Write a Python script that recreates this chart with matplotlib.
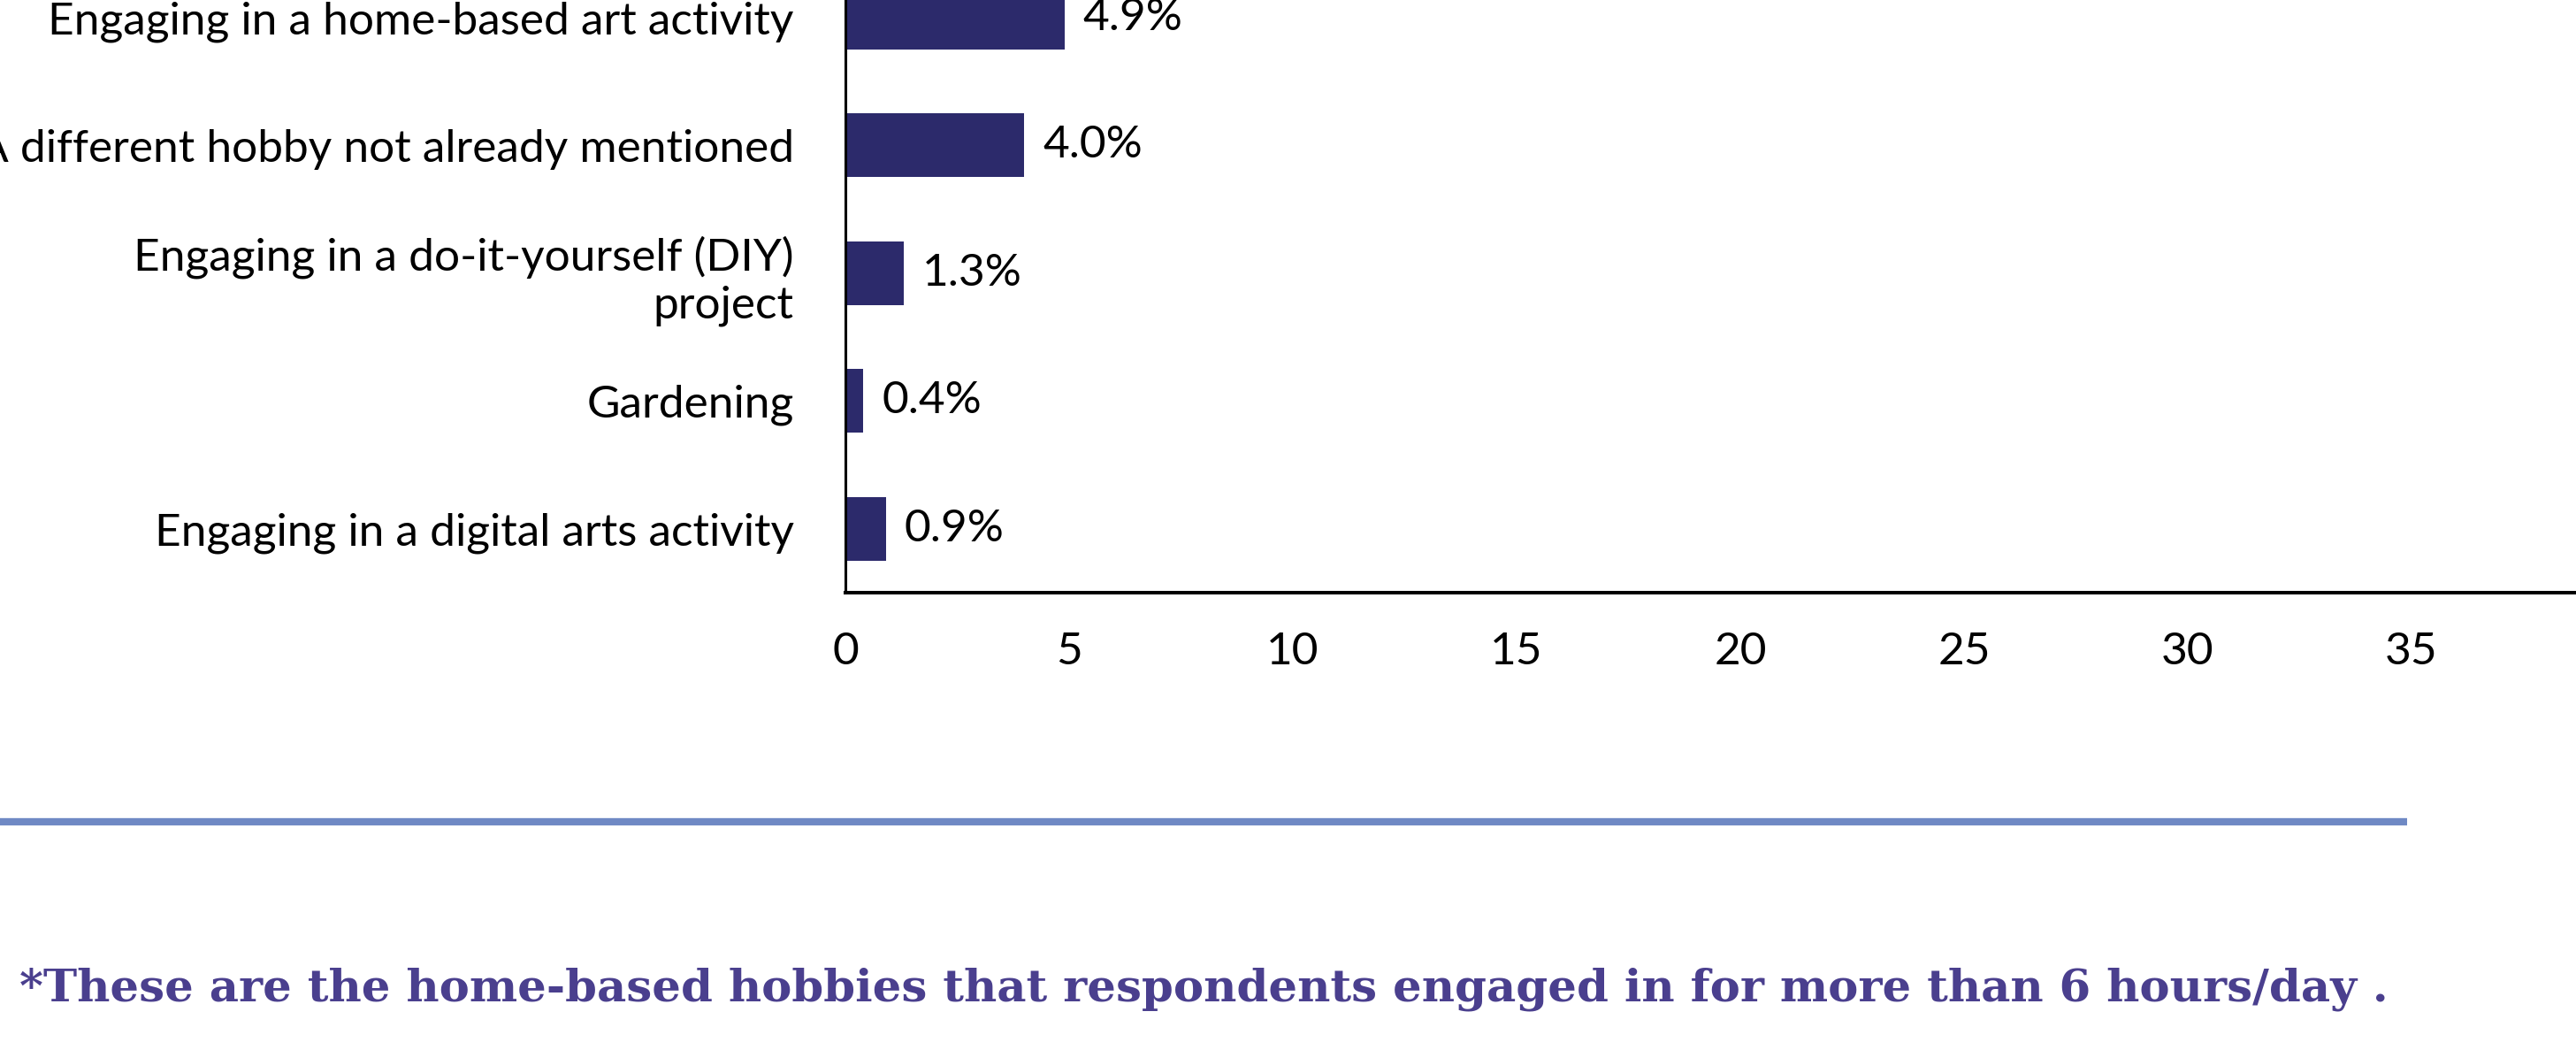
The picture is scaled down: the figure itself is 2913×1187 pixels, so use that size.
import matplotlib
matplotlib.use("Agg")
import matplotlib.pyplot as plt
from matplotlib.lines import Line2D

plt.rcParams["font.family"] = "Lato"

# Home-based hobbies, share of respondents (%), bottom to top
hobbies = [
    "Engaging in a digital arts activity",
    "Gardening",
    "Engaging in a do-it-yourself (DIY)\nproject",
    "A different hobby not already mentioned",
    "Engaging in a home-based art activity",
]
shares = [0.9, 0.4, 1.3, 4.0, 4.9]
xticks = [0, 5, 10, 15, 20, 25, 30, 35]

bar_color = "#2C2A6B"
note_color = "#4A3F8E"
rule_color = "#6F89C4"

W, H = 2913, 1187
fig = plt.figure(figsize=(W / 100, H / 100), dpi=100)

# the plot area runs off the top and right of the canvas
ax = fig.add_axes([956 / W, 517 / H, 2024 / W, 722.5 / H])
ypos = range(len(hobbies))
ax.barh(ypos, shares, height=0.5, color=bar_color)
ax.set_xlim(0, 40)
ax.set_ylim(-0.5, len(hobbies) - 0.5)

ax.set_yticks(list(ypos))
ax.set_yticklabels(hobbies, fontsize=37, ha="right", multialignment="right")
ax.set_xticks(xticks)
ax.set_xticklabels([str(t) for t in xticks], fontsize=37)
ax.tick_params(axis="y", length=0, pad=42)
ax.tick_params(axis="x", length=0, pad=32)

for y, v in zip(ypos, shares):
    ax.annotate(f"{v:.1f}%", (v, y), xytext=(15, 0), textcoords="offset points",
                va="center", ha="left", fontsize=37)

for side in ["top", "right"]:
    ax.spines[side].set_visible(False)
ax.spines["left"].set_linewidth(2.2)
ax.spines["bottom"].set_linewidth(2.9)

# separator rule and footnote
fig.add_artist(Line2D([0, 2722 / W], [1 - 929 / H] * 2, color=rule_color, lw=6,
                      solid_capstyle="butt"))
fig.text(22 / W, 1 - 1118 / H,
         "*These are the home-based hobbies that respondents engaged in for more than 6 hours/day .",
         fontsize=37, fontweight="bold", family="DejaVu Serif", color=note_color,
         va="center", ha="left")

fig.savefig("out.png", dpi=100)
